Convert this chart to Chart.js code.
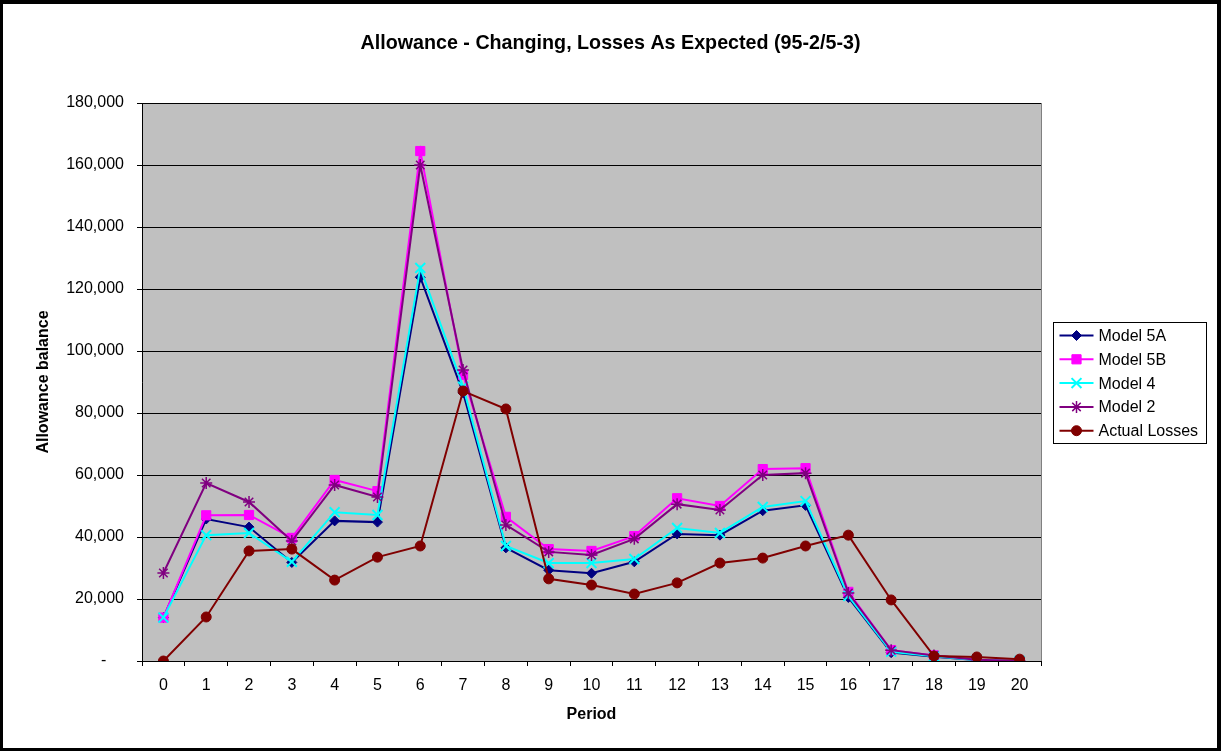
<!DOCTYPE html>
<html>
<head>
<meta charset="utf-8">
<title>Allowance - Changing, Losses As Expected (95-2/5-3)</title>
<script src="https://cdn.jsdelivr.net/npm/chart.js"></script>
<style>
  html, body { margin: 0; padding: 0; background: #fff; }
  canvas { display: block; }
</style>
</head>
<body>
<canvas id="chart" width="1221" height="751"></canvas>
<script>
// Periods along the x axis
const periods = ['0','1','2','3','4','5','6','7','8','9','10','11','12','13','14','15','16','17','18','19','20'];

// Allowance balances by model
const model5A = [14000, 45800, 43200, 31800, 45200, 44800, 123800, 86500, 36500, 29300, 28300, 32000, 41000, 40600, 48500, 50200, 20500, 2700, 1400, 300, 0];
const model5B = [14000, 47000, 47100, 39700, 58400, 54800, 164500, 92300, 46500, 36100, 35500, 40300, 52500, 50000, 61900, 62200, 22300, 3500, 1800, 400, 0];
const model4  = [14000, 40600, 41300, 32000, 48000, 47100, 126800, 88500, 37100, 31600, 31600, 32900, 42900, 41300, 49700, 51600, 21000, 3000, 1500, 300, 0];
const model2  = [28400, 57400, 51300, 38700, 56800, 52900, 160000, 93900, 43900, 35200, 34200, 39400, 50600, 48700, 60000, 60600, 21900, 3500, 1800, 400, 0];
const actualLosses = [0, 14200, 35500, 36100, 26100, 33500, 37100, 87100, 81300, 26500, 24500, 21600, 25200, 31600, 33200, 37100, 40600, 19700, 1600, 1300, 600];

// Value axis range
const yMin = 0;
const yMax = 180000;
const yStep = 20000;

const chartTitle = 'Allowance - Changing, Losses As Expected (95-2/5-3)';
const FONT = '"Liberation Sans", Arial, Helvetica, sans-serif';

function fmtTick(v) {
  if (v === 0) return '-    ';
  return v.toLocaleString('en-US');
}

// Page background, plot background, centred title and outer frame
const framePlugin = {
  id: 'frame',
  beforeDraw(chart) {
    const { ctx, chartArea: a, width, height } = chart;
    ctx.save();
    ctx.fillStyle = '#ffffff';
    ctx.fillRect(0, 0, width, height);
    ctx.fillStyle = '#c0c0c0';
    ctx.fillRect(a.left, a.top, a.right - a.left, a.bottom - a.top);
    ctx.strokeStyle = '#808080';
    ctx.lineWidth = 1;
    ctx.strokeRect(Math.round(a.left) + 0.5, Math.round(a.top) + 0.5,
                   Math.round(a.right - a.left), Math.round(a.bottom - a.top));
    ctx.fillStyle = '#000000';
    ctx.font = 'bold 19.7px ' + FONT;
    ctx.textAlign = 'center';
    ctx.textBaseline = 'middle';
    ctx.fillText(chartTitle, width / 2, 44);
    ctx.restore();
  },
  afterDraw(chart) {
    const { ctx, width, height } = chart;
    ctx.save();
    ctx.fillStyle = '#000000';
    ctx.fillRect(0, 0, width, 4);
    ctx.fillRect(0, height - 3, width, 3);
    ctx.fillRect(0, 0, 3, height);
    ctx.fillRect(width - 4, 0, 4, height);
    ctx.restore();
  }
};

function drawMarker(ctx, ds, x, y) {
  const style = {
    pointStyle: ds.pointStyle,
    radius: ds.pointRadius,
    borderWidth: ds.pointBorderWidth,
    rotation: 0
  };
  ctx.save();
  ctx.fillStyle = ds.pointBackgroundColor;
  ctx.strokeStyle = ds.pointBorderColor;
  ctx.lineWidth = ds.pointBorderWidth;
  if (Chart.helpers && Chart.helpers.drawPoint) {
    Chart.helpers.drawPoint(ctx, style, x, y);
  } else {
    ctx.beginPath();
    ctx.arc(x, y, ds.pointRadius, 0, Math.PI * 2);
    ctx.fill();
    ctx.stroke();
  }
  ctx.restore();
}

// Boxed legend to the right of the plot
const boxLegendPlugin = {
  id: 'boxLegend',
  afterDraw(chart) {
    const { ctx, chartArea: a } = chart;
    const sets = chart.data.datasets;
    const rowH = 23.8;
    const w = 153, h = 121;
    const x0 = Math.round(a.right) + 12.5;
    const y0 = Math.round((a.top + a.bottom) / 2 - h / 2) + 0.5;
    ctx.save();
    ctx.fillStyle = '#ffffff';
    ctx.fillRect(x0, y0, w, h);
    ctx.strokeStyle = '#000000';
    ctx.lineWidth = 1;
    ctx.strokeRect(x0, y0, w, h);
    ctx.font = '16px ' + FONT;
    ctx.textBaseline = 'middle';
    ctx.textAlign = 'left';
    sets.forEach((ds, i) => {
      const cy = y0 + 13 + i * rowH;
      ctx.strokeStyle = ds.borderColor;
      ctx.lineWidth = ds.borderWidth;
      ctx.beginPath();
      ctx.moveTo(x0 + 6, cy);
      ctx.lineTo(x0 + 40, cy);
      ctx.stroke();
      drawMarker(ctx, ds, x0 + 23, cy);
      ctx.fillStyle = '#000000';
      ctx.fillText(ds.label, x0 + 45, cy + 1);
    });
    ctx.restore();
  }
};

function series(label, data, color, pointStyle, radius, pbw, order) {
  return {
    label, data,
    borderColor: color,
    backgroundColor: color,
    borderWidth: 2,
    pointStyle,
    pointRadius: radius,
    pointBorderWidth: pbw,
    pointBackgroundColor: color,
    pointBorderColor: color,
    tension: 0,
    fill: false,
    order
  };
}

new Chart(document.getElementById('chart'), {
  type: 'line',
  data: {
    labels: periods,
    datasets: [
      series('Model 5A', model5A, '#000080', 'rectRot', 5, 1, 5),
      series('Model 5B', model5B, '#ff00ff', 'rect', 6.5, 1, 4),
      series('Model 4', model4, '#00ffff', 'crossRot', 7, 2, 3),
      series('Model 2', model2, '#800080', 'star', 6, 1.5, 2),
      series('Actual Losses', actualLosses, '#800000', 'circle', 5, 1, 1)
    ]
  },
  options: {
    responsive: false,
    devicePixelRatio: 1,
    animation: false,
    events: [],
    layout: { padding: { left: 0, right: 180, top: 103, bottom: 0 } },
    plugins: {
      legend: { display: false },
      tooltip: { enabled: false },
      title: { display: false }
    },
    scales: {
      x: {
        type: 'category',
        offset: true,
        grid: {
          offset: true,
          drawOnChartArea: false,
          drawTicks: true,
          tickLength: 5,
          color: '#000000',
          lineWidth: 1
        },
        border: { display: true, color: '#000000', width: 1 },
        ticks: {
          color: '#000000',
          font: { family: FONT, size: 16 },
          padding: 10,
          maxRotation: 0,
          autoSkip: false
        },
        title: {
          display: true,
          text: 'Period',
          color: '#000000',
          font: { family: FONT, size: 16, weight: 'bold' },
          padding: { top: 0, bottom: 27 }
        },
        afterFit(scale) { scale.height = 90; }
      },
      y: {
        min: yMin,
        max: yMax,
        grid: {
          color: '#000000',
          lineWidth: 1,
          drawTicks: true,
          tickLength: 5
        },
        border: { display: true, color: '#000000', width: 1 },
        ticks: {
          stepSize: yStep,
          color: '#000000',
          font: { family: FONT, size: 16 },
          padding: 13,
          callback: (v) => fmtTick(v)
        },
        title: {
          display: true,
          text: 'Allowance balance',
          color: '#000000',
          font: { family: FONT, size: 16, weight: 'bold' },
          padding: { top: 34, bottom: 0 }
        },
        afterFit(scale) { scale.width = 142; }
      }
    }
  },
  plugins: [framePlugin, boxLegendPlugin]
});
</script>
</body>
</html>
